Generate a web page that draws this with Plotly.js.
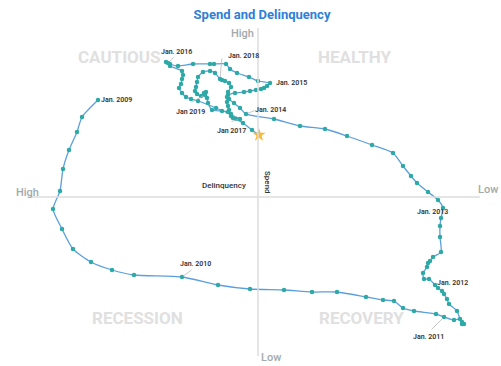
<!DOCTYPE html>
<html><head><meta charset="utf-8">
<script src="https://cdn.plot.ly/plotly-3.0.1.min.js"></script>
<style>html,body{margin:0;padding:0;background:#fff}#c{width:501px;height:366px}</style>
</head><body><div id="c"></div>
<script>
// Delinquency index (positive = high) and spend index (positive = high), monthly from Jan 2009
const delinquency = [
 160,176,181,189,195,198,205,196,185,167,146,124,
 76,40,8,-26,-54,-79,-108,-125,-136,-145,-156,-178,
 -186,-196,-202,-204,-206,-204,-199,-191,-189,-186,-184,-180,
 -177,-171,-166,-165,-169,-170,-172,-175,-183,-182,-182,-183,
 -185,-180,-170,-159,-153,-145,-135,-114,-89,-67,-42,-16,
 12,18,24,29,30,23,14,8,2,-3,-6,-9,
 -12,0,9,21,28,32,44,48,65,80,88,92,
 90,88,76,75,76,77,79,76,72,67,60,42,
 18,25,27,29,30,31,31,30,27,29,33,36,
 38,43,48,55,60,61,62,63,61,57,54,52,
 53,51,50,46,36,30,27,22,15,6,-1
];
const spend = [
 97,80,65,47,28,6,-12,-32,-52,-65,-73,-78,
 -80,-88,-92,-93,-95,-95,-100,-103,-104,-111,-114,-117,
 -120,-123,-122,-125,-127,-127,-114,-107,-102,-97,-94,-91,
 -88,-82,-82,-76,-70,-66,-64,-60,-55,-40,-29,-21,
 -11,-3,5,14,21,31,44,52,61,68,71,78,
 83,89,94,98,102,104,105,106,107,108,109,111,
 114,116,120,124,128,133,133,133,133,131,133,135,
 134,131,126,122,118,113,109,104,100,98,96,89,
 78,79,83,87,91,95,100,105,110,114,116,117,
 118,124,126,125,120,115,110,106,103,101,104,105,
 102,99,94,87,86,85,81,78,74,67,62
];
const monthLabels = [];
for (let yr = 2009; yr <= 2019; yr++) for (let m = 1; m <= 12; m++) monthLabels.push(yr + '-' + m);
// callouts: index, text, text offset (px), optional leader end offset (px)
const callouts = [
 {i:0,  text:'Jan. 2009', tx:18, ty:0},
 {i:12, text:'Jan. 2010', tx:13, ty:-13, lx:11, ly:-8},
 {i:24, text:'Jan. 2011', tx:-16, ty:20, lx:-14, ly:14},
 {i:36, text:'Jan. 2012', tx:17, ty:-2},
 {i:48, text:'Jan. 2013', tx:-11, ty:4},
 {i:60, text:'Jan. 2014', tx:24, ty:-4, lx:10, ly:-4},
 {i:72, text:'Jan. 2015', tx:21, ty:0},
 {i:84, text:'Jan. 2016', tx:8, ty:-11, lx:7, ly:-7},
 {i:96, text:'Jan 2017', tx:-9, ty:12, lx:-10, ly:3},
 {i:108,text:'Jan. 2018', tx:23, ty:-23, lx:2, ly:-22},
 {i:120,text:'Jan 2019', tx:-15, ty:17, lx:-15, ly:8}
];
const n = delinquency.length;
const traces = [{
  type:'scatter', mode:'lines+markers',
  x: delinquency, y: spend, text: monthLabels.slice(0,n),
  line:{color:'#5b9fdf', width:1.3, shape:'spline', smoothing:0.6},
  marker:{color:'#2eaaa6', size:4.5},
  hoverinfo:'text'
},{
  type:'scatter', mode:'markers',
  x:[delinquency[n-1]], y:[spend[n-1]],
  marker:{symbol:'star', color:'#f6b93b', size:10}
}];
const gray = '#a3aaaa';
const quad = {family:'Roboto, sans-serif', size:17, color:'#e0e0e0', weight:700};
const endFont = {family:'Roboto, sans-serif', size:11, color:gray, weight:500};
const annotations = [
 {x:139, y:140, text:'CAUTIOUS', font:quad},
 {x:-97, y:140, text:'HEALTHY', font:quad},
 {x:121, y:-121, text:'RECESSION', font:quad},
 {x:-103, y:-121, text:'RECOVERY', font:quad},
 {x:231, y:5, text:'High', font:endFont},
 {x:-230, y:8, text:'Low', font:endFont},
 {x:16, y:164, text:'High', font:endFont},
 {x:-13, y:-160, text:'Low', font:endFont},
 {x:34, y:12, text:'Delinquency', font:{family:'Roboto, sans-serif', size:8, color:'#333333', weight:500}},
 {x:-10, y:15, text:'Spend', textangle:90, font:{family:'Roboto, sans-serif', size:8, color:'#333333', weight:500}}
].map(a => Object.assign({showarrow:false, xref:'x', yref:'y'}, a));
callouts.forEach(c => {
  const px = delinquency[c.i], py = spend[c.i];
  if (c.lx !== undefined) annotations.push({x:px, y:py, xref:'x', yref:'y', text:'', showarrow:true,
     ax:c.lx, ay:c.ly, arrowhead:0, arrowwidth:0.8, arrowcolor:'#b8b8b8', standoff:2, startstandoff:0});
  annotations.push({x:px, y:py, xref:'x', yref:'y', text:c.text, showarrow:false,
    xshift:c.tx, yshift:-c.ty,
    font:{family:'Roboto, sans-serif', size:7, color:'#333333', weight:600}});
});
const layout = {
  width:501, height:366, margin:{l:0,r:0,t:0,b:0},
  paper_bgcolor:'#fff', plot_bgcolor:'#fff', showlegend:false,
  title:{text:'Spend and Delinquency', x:262/501, xanchor:'center', y:1-14/366, yanchor:'middle', yref:'container',
    font:{family:'Roboto, sans-serif', size:13, color:'#2f80d8', weight:700}},
  xaxis:{range:[258,-243], visible:false, fixedrange:true},
  yaxis:{range:[-169,197], visible:false, fixedrange:true},
  shapes:[
    {type:'line', xref:'x', yref:'y', x0:228, x1:-222, y0:0, y1:0, line:{color:'#dcdcdc', width:1.5}},
    {type:'line', xref:'x', yref:'y', x0:0, x1:0, y0:169, y1:-159, line:{color:'#dcdcdc', width:1.5}}
  ],
  annotations: annotations
};
Plotly.newPlot('c', traces, layout, {displayModeBar:false, staticPlot:true});
</script></body></html>
